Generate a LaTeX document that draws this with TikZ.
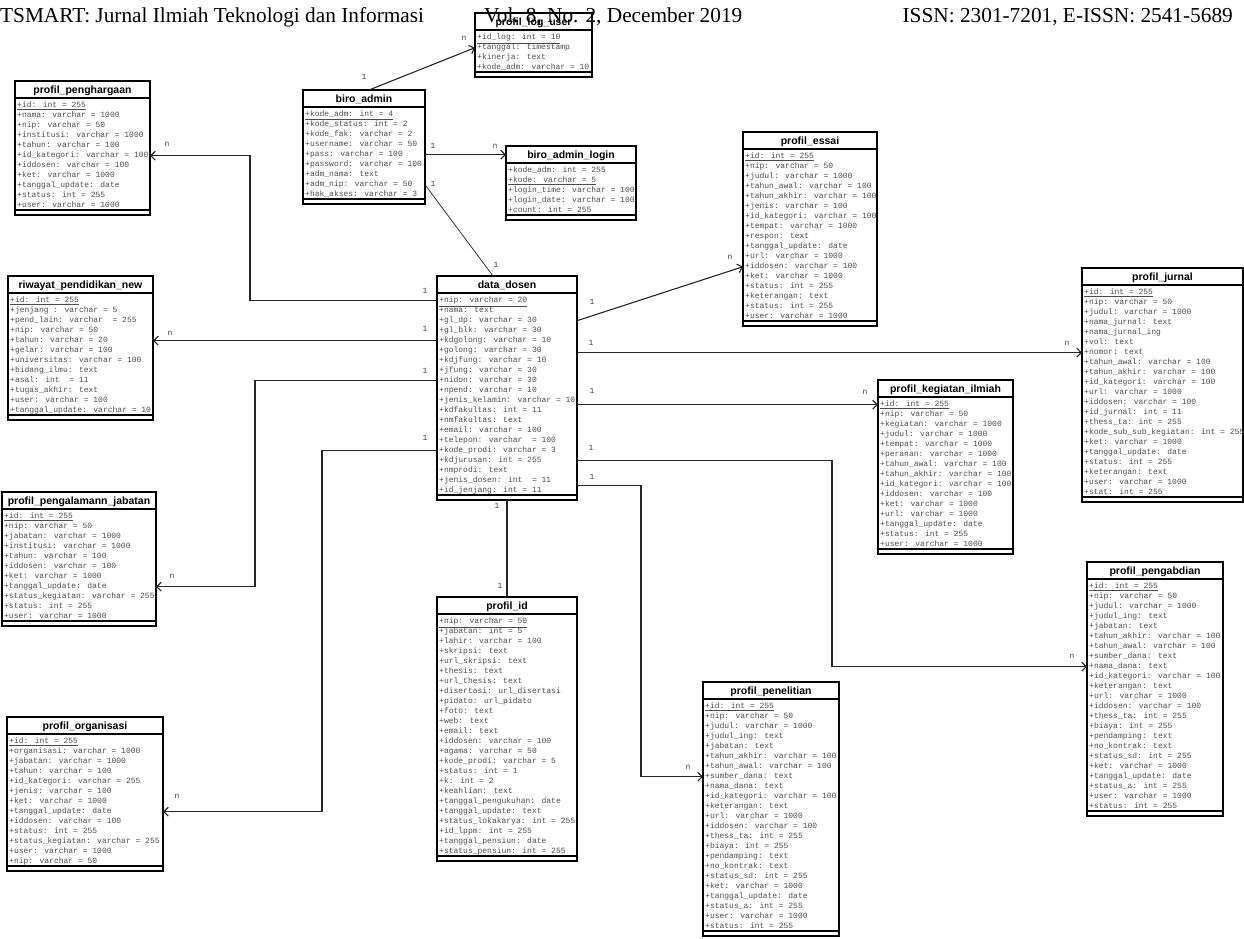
\documentclass[tikz,border=0pt]{standalone}
\usepackage{fontspec}
\setmainfont{Liberation Serif}
\newfontfamily\titlef{Liberation Sans}
\newfontfamily\rowf{Liberation Mono}
\usetikzlibrary{calc,arrows.meta}
\tikzset{
  tabbox/.style={draw=black, line width=1.3pt, fill=white, inner sep=0pt, outer sep=0pt},
  tabline/.style={draw=black, line width=1.1pt},
  tabtitle/.style={font=\titlef\bfseries\fontsize{10.5}{12}\selectfont, inner sep=0pt, anchor=base},
  tabrow/.style={font=\rowf\fontsize{8}{9}\selectfont, text=black!70, inner sep=0pt, anchor=base west, text height=6pt, text depth=2pt},
  conn/.style={draw=black!85, line width=1.1pt},
  thin conn/.style={draw=black!80, line width=0.8pt},
  arr/.style={conn, -{Straight Barb[length=4.5pt,width=9pt]}},
  card/.style={font=\rowf\fontsize{8}{9}\selectfont, text=black!75, inner sep=0pt},
  hdr/.style={font=\fontsize{21.3}{24}\selectfont, inner sep=0pt},
}
% #1 name, #2 x, #3 y (top), #4 width, #5 title, #6 rows
\newcommand\umltab[6]{%
  \foreach \umlrow [count=\k] in {#6} {\xdef\umln{\k}}%
  \pgfmathsetmacro\umlh{24+10*\umln}%
  \node[tabbox, minimum width=#4pt, minimum height=\umlh pt, anchor=north west] (#1) at (#2,#3) {};
  \node[tabtitle] (#1-t) at ($(#1.north)+(0,12.5)$) {#5};
  \draw[tabline] ([yshift=-17pt]#1.north west) -- ([yshift=-17pt]#1.north east);
  \draw[tabline] ([yshift=5pt]#1.south west) -- ([yshift=5pt]#1.south east);
  \foreach \umlrow [count=\k] in {#6} {
    \node[tabrow] (#1-r\k) at ($(#1.north west)+(2,{16.7+10*\k})$) {\umlrow};
  }%
}
\begin{document}
\begin{tikzpicture}[x=1pt,y=-1pt]
\useasboundingbox (0,0) rectangle (1244,938);

% ---------- tables ----------
\umltab{ph}{15}{81}{135}{profil\_penghargaan}{\underline{+id: int = 255}, +nama: varchar = 1000, +nip: varchar = 50, +institusi: varchar = 1000, +tahun: varchar = 100, +id\_kategori: varchar = 100, +iddosen: varchar = 100, +ket: varchar = 1000, +tanggal\_update: date, +status: int = 255, +user: varchar = 1000}

\umltab{lu}{475}{13}{117}{profil\_log\_user}{\underline{+id\_log: int = 10}, +tanggal: timestamp, +kinerja: text, +kode\_adm: varchar = 10}

\umltab{ba}{303}{90}{122}{biro\_admin}{\underline{+kode\_adm: int = 4}, +kode\_status: int = 2, +kode\_fak: varchar = 2, +username: varchar = 50, +pass: varchar = 100, +password: varchar = 100, +adm\_nama: text, +adm\_nip: varchar = 50, +hak\_akses: varchar = 3}

\umltab{lg}{506}{146}{130}{biro\_admin\_login}{+kode\_adm: int = 255, \underline{+kode: varchar = 5}, +login\_time: varchar = 100, +login\_date: varchar = 100, +count: int = 255}

\umltab{es}{743}{132}{134}{profil\_essai}{\underline{+id: int = 255}, +nip: varchar = 50, +judul: varchar = 1000, +tahun\_awal: varchar = 100, +tahun\_akhir: varchar = 100, +jenis: varchar = 100, +id\_kategori: varchar = 100, +tempat: varchar = 1000, +respon: text, +tanggal\_update: date, +url: varchar = 1000, +iddosen: varchar = 100, +ket: varchar = 1000, +status: int = 255, +keterangan: text, +status: int = 255, +user: varchar = 1000}

\umltab{rw}{8}{276}{145}{riwayat\_pendidikan\_new}{\underline{+id: int = 255}, +jenjang : varchar = 5, +pend\_lain: varchar~ = 255, +nip: varchar = 50, +tahun: varchar = 20, +gelar: varchar = 100, +universitas: varchar = 100, +bidang\_ilmu: text, +asal: int~ = 11, +tugas\_akhir: text, +user: varchar = 100, +tanggal\_update: varchar = 10}

\umltab{dd}{437}{276}{140}{data\_dosen}{\underline{+nip: varchar = 20}, +nama: text, +gl\_dp: varchar = 30, +gl\_blk: varchar = 30, +kdgolong: varchar = 10, +golong: varchar = 30, +kdjfung: varchar = 10, +jfung: varchar = 30, +nidon: varchar = 30, +npend: varchar = 10, +jenis\_kelamin: varchar = 10, +kdfakultas: int = 11, +nmfakultas: text, +email: varchar = 100, +telepon: varchar~ = 100, +kode\_prodi: varchar = 3, +kdjurusan: int = 255, +nmprodi: text, +jenis\_dosen: int~ = 11, +id\_jenjang: int = 11}

\umltab{jr}{1082}{268}{161}{profil\_jurnal}{\underline{+id: int = 255}, +nip: varchar = 50, +judul: varchar = 1000, +nama\_jurnal: text, +nama\_jurnal\_ing, +vol: text, +nomor: text, +tahun\_awal: varchar = 100, +tahun\_akhir: varchar = 100, +id\_kategori: varchar = 100, +url: varchar = 1000, +iddosen: varchar = 100, +id\_jurnal: int = 11, +thess\_ta: int = 255, +kode\_sub\_sub\_kegiatan: int = 255, +ket: varchar = 1000, +tanggal\_update: date, +status: int = 255, +keterangan: text, +user: varchar = 1000, +stat: int = 255}

\umltab{kg}{878}{380}{135}{profil\_kegiatan\_ilmiah}{\underline{+id: int = 255}, +nip: varchar = 50, +kegiatan: varchar = 1000, +judul: varchar = 1000, +tempat: varchar = 1000, +peranan: varchar = 1000, +tahun\_awal: varchar = 100, +tahun\_akhir: varchar = 100, +id\_kategori: varchar = 100, +iddosen: varchar = 100, +ket: varchar = 1000, +url: varchar = 1000, +tanggal\_update: date, +status: int = 255, +user: varchar = 1000}

\umltab{pj}{2}{492}{154}{profil\_pengalamann\_jabatan}{\underline{+id: int = 255}, +nip: varchar = 50, +jabatan: varchar = 1000, +institusi: varchar = 1000, +tahun: varchar = 100, +iddosen: varchar = 100, +ket: varchar = 1000, +tanggal\_update: date, +status\_kegiatan: varchar = 255, +status: int = 255, +user: varchar = 1000}

\umltab{po}{7}{717}{156}{profil\_organisasi}{\underline{+id: int = 255}, +organisasi: varchar = 1000, +jabatan: varchar = 1000, +tahun: varchar = 100, +id\_kategori: varchar = 255, +jenis: varchar = 100, +ket: varchar = 1000, +tanggal\_update: date, +iddosen: varchar = 100, +status: int = 255, +status\_kegiatan: varchar = 255, +user: varchar = 1000, +nip: varchar = 50}

\umltab{pid}{437}{597}{140}{profil\_id}{\underline{+nip: varchar = 50}, +jabatan: int = 5, +lahir: varchar = 100, +skripsi: text, +url\_skripsi: text, +thesis: text, +url\_thesis: text, +disertasi: url\_disertasi, +pidato: url\_pidato, +foto: text, +web: text, +email: text, +iddosen: varchar = 100, +agama: varchar = 50, +kode\_prodi: varchar = 5, +status: int = 1, +k: int = 2, +keahlian: text, +tanggal\_pengukuhan: date, +tanggal\_update: text, +status\_lokakarya: int = 255, +id\_lppm: int = 255, +tanggal\_pensiun: date, +status\_pensiun: int = 255}

\umltab{pn}{703}{682}{136}{profil\_penelitian}{\underline{+id: int = 255}, +nip: varchar = 50, +judul: varchar = 1000, +judul\_ing: text, +jabatan: text, +tahun\_akhir: varchar = 100, +tahun\_awal: varchar = 100, +sumber\_dana: text, +nama\_dana: text, +id\_kategori: varchar = 100, +keterangan: text, +url: varchar = 1000, +iddosen: varchar = 100, +thess\_ta: int = 255, +biaya: int = 255, +pendamping: text, +no\_kontrak: text, +status\_sd: int = 255, +ket: varchar = 1000, +tanggal\_update: date, +status\_a: int = 255, +user: varchar = 1000, +status: int = 255}

\umltab{pa}{1087}{562}{136}{profil\_pengabdian}{\underline{+id: int = 255}, +nip: varchar = 50, +judul: varchar = 1000, +judul\_ing: text, +jabatan: text, +tahun\_akhir: varchar = 100, +tahun\_awal: varchar = 100, +sumber\_dana: text, +nama\_dana: text, +id\_kategori: varchar = 100, +keterangan: text, +url: varchar = 1000, +iddosen: varchar = 100, +thess\_ta: int = 255, +biaya: int = 255, +pendamping: text, +no\_kontrak: text, +status\_sd: int = 255, +ket: varchar = 1000, +tanggal\_update: date, +status\_a: int = 255, +user: varchar = 1000, +status: int = 255}

% ---------- bend points ----------
\coordinate (bx1) at (250,0);
\coordinate (bx2) at (255,0);
\coordinate (bx3) at (322,0);
\coordinate (bx4) at (832,0);
\coordinate (bx5) at (641,0);
\coordinate (bx7) at (369,0);
\coordinate (bx8) at (493,0);
\coordinate (dd-p) at ($(dd-r19)!0.5!(dd-r20)$);

% ---------- connectors ----------
\draw[arr] (bx7 |- ba.north) -- (lu.west |- lu-r2);
\draw[arr] (ba.east |- ba-r5) -- (lg.west |- ba-r5);
\draw[thin conn] (ba.east |- ba-r8) -- (bx8 |- dd.north);
\draw[arr] (dd.west |- dd-r1) -| (bx1 |- ph-r6) -- (ph.east |- ph-r6);
\draw[arr] (dd.west |- rw-r5) -- (rw.east |- rw-r5);
\draw[arr] (dd.west |- dd-r9) -| (bx2 |- pj-r8) -- (pj.east |- pj-r8);
\draw[arr] (dd.west |- dd-r16) -| (bx3 |- po-r8) -- (po.east |- po-r8);
\draw[arr] (dd.east |- dd-r3) -- (es.west |- es-r12);
\draw[arr] (dd.east |- jr-r7) -- (jr.west |- jr-r7);
\draw[arr] (dd.east |- kg-r1) -- (kg.west |- kg-r1);
\draw[arr] (dd.east |- dd-r17) -| (bx4 |- pa-r9) -- (pa.west |- pa-r9);
\draw[arr] (dd.east |- dd-p) -| (bx5 |- pn-r8) -- (pn.west |- pn-r8);
\draw[conn] (dd.south) -- (pid.north);

% ---------- multiplicities ----------
\node[card] (m1a) at (364,77) {1};
\node[card] (m1b) at (464,38) {n};
\node[card] (m2a) at (433,146) {1};
\node[card] (m2b) at (495,146) {n};
\node[card] (m3a) at (433,184) {1};
\node[card] (m3b) at (496,265) {1};
\node[card] (m4a) at (425,291) {1};
\node[card] (m4b) at (167,144) {n};
\node[card] (m5a) at (425,329) {1};
\node[card] (m5b) at (170,333) {n};
\node[card] (m6a) at (425,371) {1};
\node[card] (m6b) at (172,576) {n};
\node[card] (m7a) at (425,438) {1};
\node[card] (m7b) at (177,796) {n};
\node[card] (m8a) at (592,302) {1};
\node[card] (m8b) at (730,257) {n};
\node[card] (m9a) at (591,343) {1};
\node[card] (m9b) at (1067,343) {n};
\node[card] (m10a) at (592,391) {1};
\node[card] (m10b) at (865,392) {n};
\node[card] (m11a) at (591,448) {1};
\node[card] (m11b) at (1072,656) {n};
\node[card] (m12a) at (592,477) {1};
\node[card] (m12b) at (688,767) {n};
\node[card] (m13a) at (497,506) {1};
\node[card] (m13b) at (500,586) {1};

% ---------- header ----------
\node[hdr, anchor=base west] (h1) at (0,22) {TSMART: Jurnal Ilmiah Teknologi dan Informasi};
\node[hdr, anchor=base west] (h2) at (484,22) {Vol. 8, No. 2, December 2019};
\node[hdr, anchor=base east] (h3) at (1233,22) {ISSN: 2301-7201, E-ISSN: 2541-5689};
\end{tikzpicture}
\end{document}
